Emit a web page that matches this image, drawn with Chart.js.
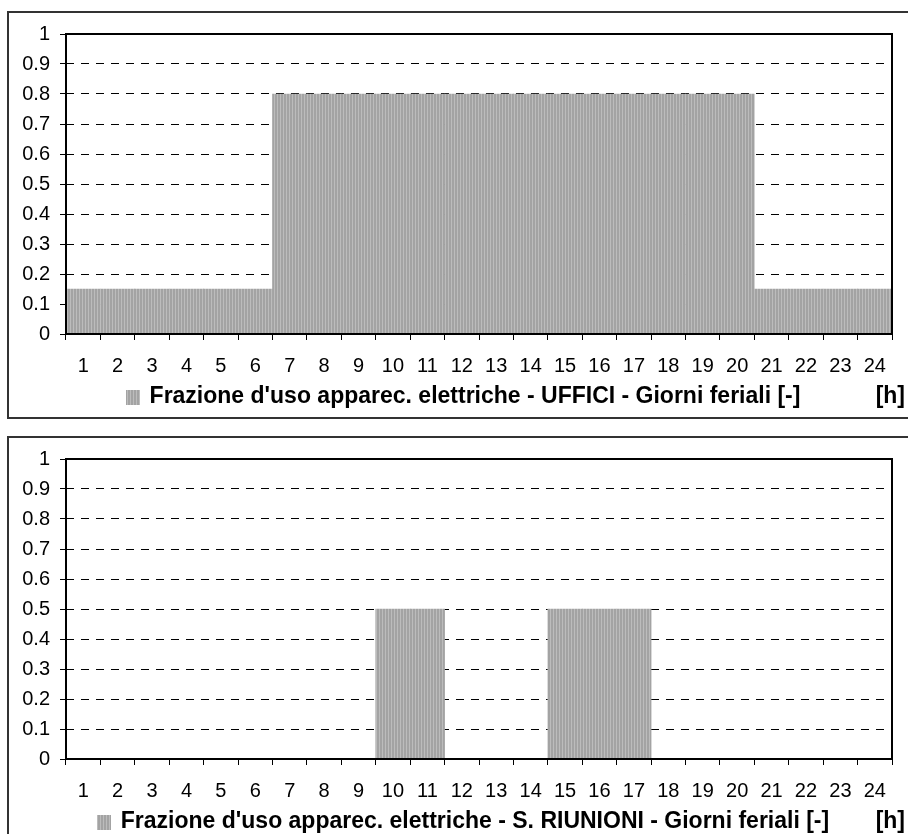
<!DOCTYPE html>
<html>
<head>
<meta charset="utf-8">
<script src="https://cdn.jsdelivr.net/npm/chart.js@4/dist/chart.umd.min.js"></script>
<style>
html,body{margin:0;padding:0;background:#fff;overflow:hidden;width:908px;height:834px;position:relative}
canvas{position:absolute;left:8px}
.frame{position:absolute;left:7px;width:914px;height:408px;border:2px solid #333;box-sizing:border-box;pointer-events:none}
</style>
</head>
<body>
<canvas id="c1" width="910" height="406" style="top:12px"></canvas>
<canvas id="c2" width="910" height="406" style="top:437px"></canvas>
<div class="frame" style="top:11px"></div>
<div class="frame" style="top:436px"></div>
<script>
const hours = ['1','2','3','4','5','6','7','8','9','10','11','12','13','14','15','16','17','18','19','20','21','22','23','24'];
const ufficiValues = [0.15,0.15,0.15,0.15,0.15,0.15,0.8,0.8,0.8,0.8,0.8,0.8,0.8,0.8,0.8,0.8,0.8,0.8,0.8,0.8,0.15,0.15,0.15,0.15];
const riunioniValues = [0,0,0,0,0,0,0,0,0,0.5,0.5,0,0,0,0.5,0.5,0.5,0,0,0,0,0,0,0];
const yTickLabels = ['0','0.1','0.2','0.3','0.4','0.5','0.6','0.7','0.8','0.9','1'];
const legendUffici = "Frazione d'uso apparec. elettriche - UFFICI - Giorni feriali [-]";
const legendRiunioni = "Frazione d'uso apparec. elettriche - S. RIUNIONI - Giorni feriali [-]";
const unitLabel = '[h]';

function makePattern(){
  const p = document.createElement('canvas');
  p.width = 3; p.height = 1;
  const g = p.getContext('2d');
  g.fillStyle = '#a3a3a3'; g.fillRect(0,0,3,1);
  g.fillStyle = '#bcbcbc'; g.fillRect(2,0,1,1);
  return p;
}
const patCanvas = makePattern();

const FONT = '"Liberation Sans", Arial, sans-serif';

const framePlugin = {
  id: 'frameLegend',
  afterDraw(chart){
    const ctx = chart.ctx, a = chart.chartArea;
    ctx.save();
    ctx.strokeStyle = '#000';
    ctx.lineWidth = 2;
    ctx.strokeRect(a.left, a.top, a.right - a.left, a.bottom - a.top);
    const text = chart.data.datasets[0].label;
    ctx.font = 'bold 23px ' + FONT;
    const tw = ctx.measureText(text).width;
    const mw = 14, gap = 10;
    const total = mw + gap + tw;
    const x0 = chart.width / 2 - total / 2;
    const cy = 385;
    ctx.fillStyle = ctx.createPattern(patCanvas, 'repeat');
    ctx.fillRect(Math.round(x0), cy - 7, mw, 15);
    ctx.fillStyle = '#000';
    ctx.textBaseline = 'middle';
    ctx.textAlign = 'left';
    ctx.fillText(text, x0 + mw + gap, cy);
    ctx.textAlign = 'right';
    ctx.fillText(unitLabel, 897, cy);
    ctx.restore();
  }
};

function makeChart(id, values, label){
  const ctx = document.getElementById(id).getContext('2d');
  const pattern = ctx.createPattern(patCanvas, 'repeat');
  return new Chart(ctx, {
    type: 'bar',
    data: {
      labels: hours,
      datasets: [{
        label: label,
        data: values,
        backgroundColor: pattern,
        borderWidth: 0,
        barPercentage: 1,
        categoryPercentage: 1
      }]
    },
    options: {
      responsive: false,
      animation: false,
      layout: { padding: { left: 0, top: 20, right: 26, bottom: 44 } },
      plugins: { legend: { display: false }, tooltip: { enabled: false } },
      scales: {
        x: {
          grid: { offset: true, drawOnChartArea: false, drawTicks: true, tickLength: 6, color: '#000', lineWidth: 1 },
          border: { display: false },
          ticks: { color: '#000', font: { family: FONT, size: 20 }, padding: 14, autoSkip: false, maxRotation: 0 },
          afterFit(s){ s.height = 40; }
        },
        y: {
          min: 0, max: 1,
          grid: { color: '#000', lineWidth: 1, drawTicks: true, tickLength: 6, tickBorderDash: [] },
          border: { display: false, dash: [8, 7] },
          ticks: { stepSize: 0.1, color: '#000', font: { family: FONT, size: 20 }, padding: 10,
                   callback: (v, i) => yTickLabels[i] },
          afterFit(s){ s.width = 58; }
        }
      }
    },
    plugins: [framePlugin]
  });
}

makeChart('c1', ufficiValues, legendUffici);
makeChart('c2', riunioniValues, legendRiunioni);
</script>
</body>
</html>
